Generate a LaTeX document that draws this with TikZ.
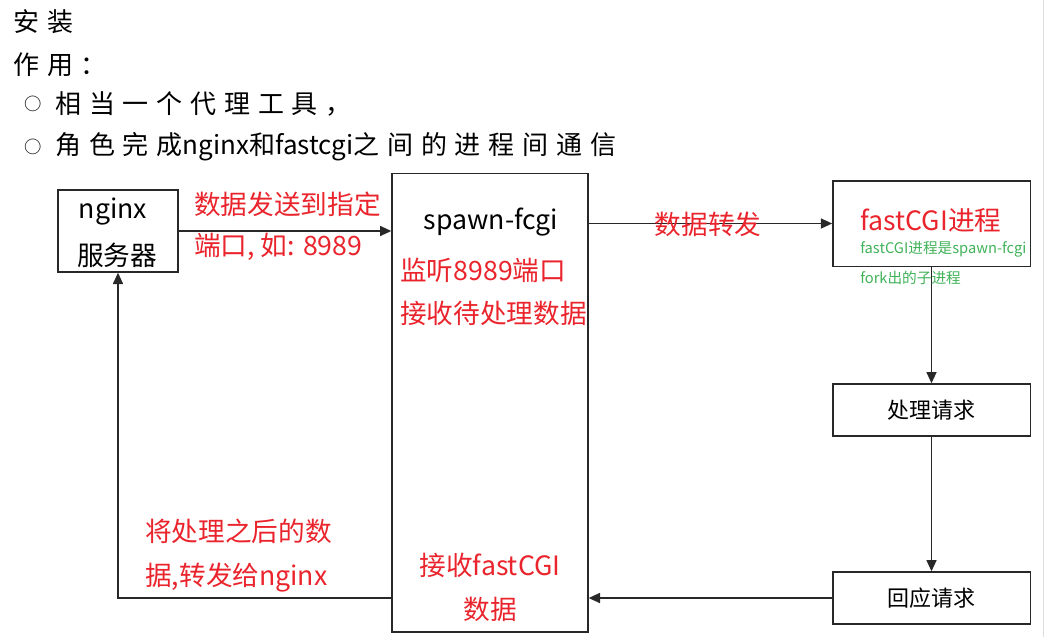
\documentclass[tikz,border=0pt]{standalone}
\usepackage{fontspec}
\setmainfont{Noto Sans CJK SC}
\newfontfamily\widecjk[LetterSpace=30]{Noto Sans CJK SC}
\usetikzlibrary{arrows.meta}
\definecolor{lblred}{RGB}{234,36,44}
\definecolor{lblgreen}{RGB}{64,178,88}
\definecolor{linegray}{RGB}{40,40,40}
\begin{document}
\begin{tikzpicture}[x=0.75pt,y=-0.75pt,>={Triangle[length=8.5pt,width=7.5pt]},line join=miter,
	every node/.style={inner sep=0pt},
	box/.style={draw=linegray,line width=1pt},
	conn/.style={draw=linegray,line width=1.2pt},
	toptxt/.style={anchor=west,font=\widecjk\fontsize{19.5}{23}\selectfont},
	dot/.style={font=\fontsize{13}{15}\selectfont},
	blk/.style={font=\fontsize{20}{24}\selectfont},
	lbl/.style={text=lblred,font=\fontsize{20}{24}\selectfont},
	note/.style={anchor=west,text=lblgreen,font=\fontsize{11}{13}\selectfont},
	small/.style={font=\fontsize{16.5}{20}\selectfont}]
	\useasboundingbox (0,0) rectangle (1046,637);
	\draw[gray!25] (1043,0) -- (1043,637);
	% heading lines
	\node[toptxt] (inst) at (13,22) {安装};
	\node[toptxt] (role) at (13,65) {作用：};
	\node[dot] (dotA) at (33,104) {○};
	\node[toptxt] (lineA) at (55,104) {相当一个代理工具，};
	\node[dot] (dotB) at (33,147) {○};
	\node[toptxt] (lineB) at (55,147) {角色完成{\normalfont nginx}和{\normalfont fastcgi}之间的进程间通信};
	% boxes
	\node[box,minimum width=90pt,minimum height=61.5pt] (nginx) at (118,231) {};
	\node[box,minimum width=147pt,minimum height=344pt] (spawn) at (490,402.5) {};
	\node[box,minimum width=148pt,minimum height=64pt] (fcgi) at (931.5,223.5) {};
	\node[box,small,minimum width=148pt,minimum height=39pt] (proc) at (931.5,410) {处理请求};
	\node[box,small,minimum width=148pt,minimum height=39pt] (resp) at (931.5,598) {回应请求};
	% texts in the boxes
	\node[blk] (nginxA) at (113,211) {nginx};
	\node[blk] (nginxB) at (117,255) {服务器};
	\node[blk] (spawnA) at (491,222) {spawn-fcgi};
	\node[lbl,anchor=west] (spawnB) at (400,270) {监听8989端口};
	\node[lbl,anchor=west] (spawnC) at (400,313) {接收待处理数据};
	\node[lbl] (spawnD) at (490,565) {接收fastCGI};
	\node[lbl] (spawnE) at (490,609) {数据};
	\node[lbl] (fcgiA) at (931,221) {fastCGI进程};
	\node[note] (fcgiB) at (860,249) {fastCGI进程是spawn-fcgi};
	\node[note] (fcgiC) at (860,278) {fork出的子进程};
	% connectors
	\draw[conn,->] (nginx.east) -- (nginx.east -| spawn.west);
	\draw[conn,->] (fcgi.west -| spawn.east) -- (fcgi.west);
	\draw[conn,->] (fcgi.south) -- (proc.north);
	\draw[conn,->] (proc.south) -- (resp.north);
	\draw[conn,->] (resp.west) -- (resp.west -| spawn.east);
	\draw[conn,->] (resp.west -| spawn.west) -- (resp.west -| nginx.south) -- (nginx.south);
	% labels on the connectors
	\node[lbl,anchor=west] (sendA) at (194,204) {数据发送到指定};
	\node[lbl,anchor=west] (sendB) at (194,247) {端口, 如: 8989};
	\node[lbl] (fwd) at (708,224) {数据转发};
	\node[lbl,anchor=west] (backA) at (145,531) {将处理之后的数};
	\node[lbl,anchor=west] (backB) at (145,578) {据,转发给nginx};
\end{tikzpicture}
\end{document}
